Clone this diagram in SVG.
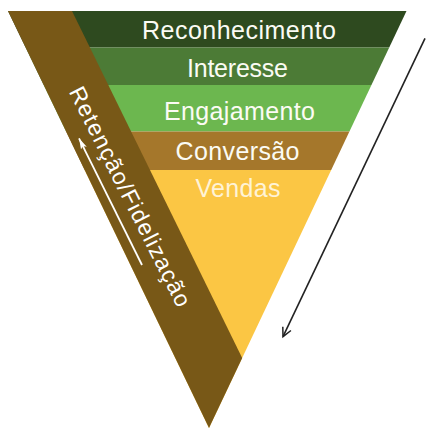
<svg xmlns="http://www.w3.org/2000/svg" width="436" height="434" viewBox="0 0 436 434">
  <defs>
    <clipPath id="funnel">
      <polygon points="8,11 406.5,11 209,428"/>
    </clipPath>
    <marker id="whiteHead" markerWidth="12" markerHeight="8" refX="11" refY="4" orient="auto" markerUnits="userSpaceOnUse">
      <path d="M0,0.8 L11,4 L0,7.2 L2.5,4 Z" fill="#ffffff"/>
    </marker>
    <marker id="blackHead" markerWidth="12" markerHeight="12" refX="10" refY="6" orient="auto" markerUnits="userSpaceOnUse">
      <path d="M1,1.5 L10,6 L1,10.5" fill="none" stroke="#222222" stroke-width="1.5"/>
    </marker>
  </defs>
  <style>
    .lbl { font-family: "Liberation Sans", Arial, Helvetica, sans-serif; font-size: 25px; fill: #fbfbf4; text-anchor: middle; }
    .side { font-family: "Liberation Sans", Arial, Helvetica, sans-serif; font-size: 23px; fill: #ffffff; }
  </style>
  <rect width="436" height="434" fill="#ffffff"/>
  <g clip-path="url(#funnel)">
    <g id="reconhecimento">
      <rect x="0" y="11" width="436" height="36.5" fill="#2e4a1f"/>
      <text class="lbl" x="239" y="38.5" textLength="194">Reconhecimento</text>
    </g>
    <g id="interesse">
      <rect x="0" y="47.5" width="436" height="37.5" fill="#4c7b36"/>
      <text class="lbl" x="237.5" y="77" textLength="101">Interesse</text>
    </g>
    <g id="engajamento">
      <rect x="0" y="85" width="436" height="46.5" fill="#6cb74f"/>
      <text class="lbl" x="239.5" y="120" textLength="151">Engajamento</text>
    </g>
    <g id="conversao">
      <rect x="0" y="131.5" width="436" height="38.5" fill="#a5772b"/>
      <text class="lbl" x="237.5" y="159.5" textLength="124">Conversão</text>
    </g>
    <g id="vendas">
      <rect x="0" y="170" width="436" height="264" fill="#fbc644"/>
      <text class="lbl" x="238" y="197" textLength="85" style="fill:#fff3d6">Vendas</text>
    </g>
  </g>
  <g id="retencao">
    <polygon points="8,11 72,11 242.2,358 209,428" fill="#785817"/>
    <text class="side" transform="translate(68.5,91.5) rotate(63.3)" x="0" y="0" textLength="243">Retenção/Fidelização</text>
  </g>
  <g id="connectors">
    <line x1="142" y1="265" x2="79" y2="138.3" stroke="#ffffff" stroke-width="1.8" marker-end="url(#whiteHead)"/>
    <line x1="425" y1="38.3" x2="283" y2="336.7" stroke="#222222" stroke-width="1.6" marker-end="url(#blackHead)"/>
  </g>
</svg>
